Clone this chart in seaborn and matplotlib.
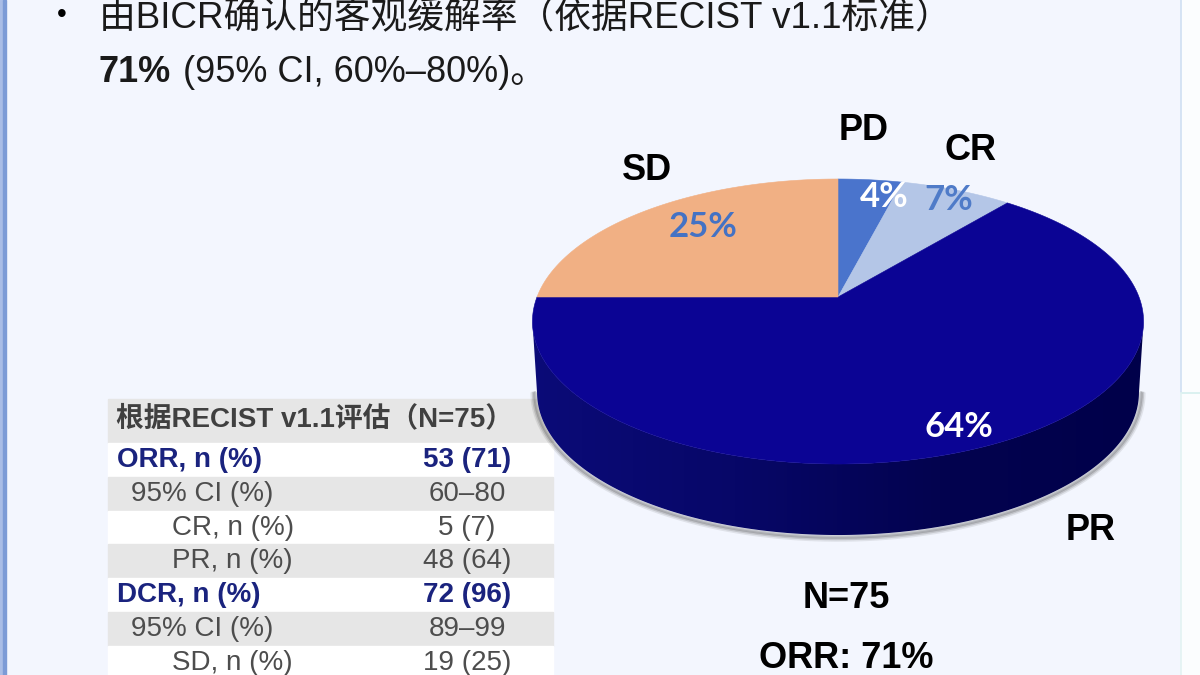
import numpy as np
import matplotlib
matplotlib.use("Agg")
import matplotlib.pyplot as plt
import seaborn as sns
from matplotlib.patches import Polygon, Rectangle

categories = ["PD", "CR", "PR", "SD"]
values = [4, 7, 64, 25]
pie_colors = ["#4a74cc", "#b4c6e7", "#0b0494", "#f1b084"]
pct_colors = ["white", "#4f7bc8", "white", "#4472c4"]

table_title = "根据RECIST v1.1评估（N=75）"
row_names = ["ORR, n (%)", "95% CI (%)", "CR, n (%)", "PR, n (%)",
             "DCR, n (%)", "95% CI (%)", "SD, n (%)"]
row_values = ["53 (71)", "60–80", "5 (7)", "48 (64)", "72 (96)", "89–99", "19 (25)"]
row_indent = [117, 131, 172, 172, 117, 131, 172]
row_bold = [True, False, False, False, True, False, False]

# perspective of the pie, fitted on the picture (apex, half width, half height, tilt)
CX, CY, A, B, K = 838, 297, 301, 138.3, 0.172
DEPTH = 71

sns.set_theme(style="white")
plt.rcParams["font.family"] = ["Liberation Sans", "Noto Sans CJK SC", "DejaVu Sans"]


def project(xy):
    w = 1 + K * xy[:, 1]
    return np.column_stack([CX + A * xy[:, 0] / w, CY - B * xy[:, 1] / w])


fig = plt.figure(figsize=(12, 6.75), dpi=100, facecolor="#f3f6fe")
ax = fig.add_axes([0, 0, 1, 1])
wedges, _ = ax.pie(values, colors=pie_colors, startangle=90, counterclock=False, frame=True)
ax.set_aspect("auto")
ax.set_xlim(0, 1200)
ax.set_ylim(675, 0)
ax.axis("off")

# slide frame
ax.add_patch(Rectangle((0, 0), 3, 675, color="#a9bde6", zorder=1))
ax.add_patch(Rectangle((3, 0), 3, 675, color="#7c9bd6", zorder=1))
ax.add_patch(Rectangle((1181, 0), 19, 675, color="#fbfdfe", zorder=1))
ax.plot([1181, 1181], [0, 392], color="#cfe0f2", lw=1.2, zorder=1)
ax.plot([1181, 1200], [393, 393], color="#d5efee", lw=1.2, zorder=1)
ax.plot([1181, 1181], [393, 675], color="#e2f3f3", lw=1.2, zorder=1)

# side of the pie
t = np.linspace(-np.arcsin(K), -np.pi + np.arcsin(K), 200)
rim = project(np.column_stack([np.cos(t), np.sin(t)]))
low = np.column_stack([CX + (rim[:, 0] - CX) * 0.985, rim[:, 1] + DEPTH])
for off, alpha in [(5, 0.10), (3.5, 0.16), (2, 0.25)]:
    ax.plot(low[:, 0] + off * np.cos(t), low[:, 1] - off * np.sin(t),
            color="#333333", alpha=alpha, lw=2.5, zorder=2.5)
side = Polygon(np.vstack([rim, low[::-1]]), closed=True, facecolor="none", edgecolor="none", zorder=2)
ax.add_patch(side)
cmap = sns.blend_palette(["#0b0b78", "#070768", "#03034f", "#00004a"], as_cmap=True)
img = ax.imshow(np.linspace(0, 1, 256)[None, :], extent=(530, 1145, 540, 300), aspect="auto",
                cmap=cmap, zorder=3)
img.set_clip_path(side)
ax.set_xlim(0, 1200)
ax.set_ylim(675, 0)

# top of the pie, from the wedges that pie() computed
for wedge, color in zip(wedges, pie_colors):
    scale = matplotlib.transforms.Affine2D().scale(2000)
    poly = wedge.get_path().to_polygons(scale)[0] / 2000
    wedge.set_visible(False)
    ax.add_patch(Polygon(project(poly), closed=True, facecolor=color, edgecolor=color, lw=0.4, zorder=4))

# pie labels
name_pos = {"PD": (864, 130), "CR": (970, 150), "PR": (1091, 531), "SD": (647, 170)}
pct_pos = {"PD": (884, 197), "CR": (949, 200), "PR": (959, 427), "SD": (703, 227)}
for name, v, c in zip(categories, values, pct_colors):
    ax.text(*name_pos[name], name, fontsize=26, fontweight="bold", color="black",
            ha="center", va="center", zorder=6)
    ax.text(*pct_pos[name], f"{v}%", fontsize=25, fontweight="bold", color=c,
            family=["Lato", "DejaVu Sans"], ha="center", va="center", zorder=6)

ax.text(846, 598, "N=75", fontsize=26, fontweight="bold", color="black", ha="center", va="center", zorder=6)
ax.text(846, 658, "ORR: 71%", fontsize=26, fontweight="bold", color="black", ha="center", va="center", zorder=6)

# heading
ax.text(62, 15, "•", fontsize=20, color="black", ha="center", va="center", zorder=6)
ax.text(99, 19, "由BICR确认的客观缓解率（依据RECIST v1.1标准）", fontsize=26.5, color="#1a1a1a",
        ha="left", va="center", zorder=6)
ax.text(99, 72, "71%", fontsize=26, fontweight="bold", color="#1a1a1a", ha="left", va="center", zorder=6)
ax.text(183, 72, "(95% CI, 60%–80%)。", fontsize=26, color="#1a1a1a", ha="left", va="center", zorder=6)

# table
ax.add_patch(Rectangle((108, 399), 445, 44, color="#e6e6e6", zorder=2))
ax.text(116, 419, table_title, fontsize=20, fontweight="bold", color="#404040", ha="left", va="center", zorder=6)
for i, (name, val, x0, bold) in enumerate(zip(row_names, row_values, row_indent, row_bold)):
    top = 443 + i * 33.8
    ax.add_patch(Rectangle((108, top), 445, 33.8, color="#e6e6e6" if i % 2 else "white", zorder=2))
    col = "#1a237e" if bold else "#4d4d4d"
    wt = "bold" if bold else "normal"
    ax.text(x0, top + 17, name, fontsize=20, fontweight=wt, color=col, ha="left", va="center", zorder=6)
    ax.text(467, top + 17, val, fontsize=20, fontweight=wt, color=col, ha="center", va="center", zorder=6)

fig.savefig("out.png", dpi=100, facecolor=fig.get_facecolor())
